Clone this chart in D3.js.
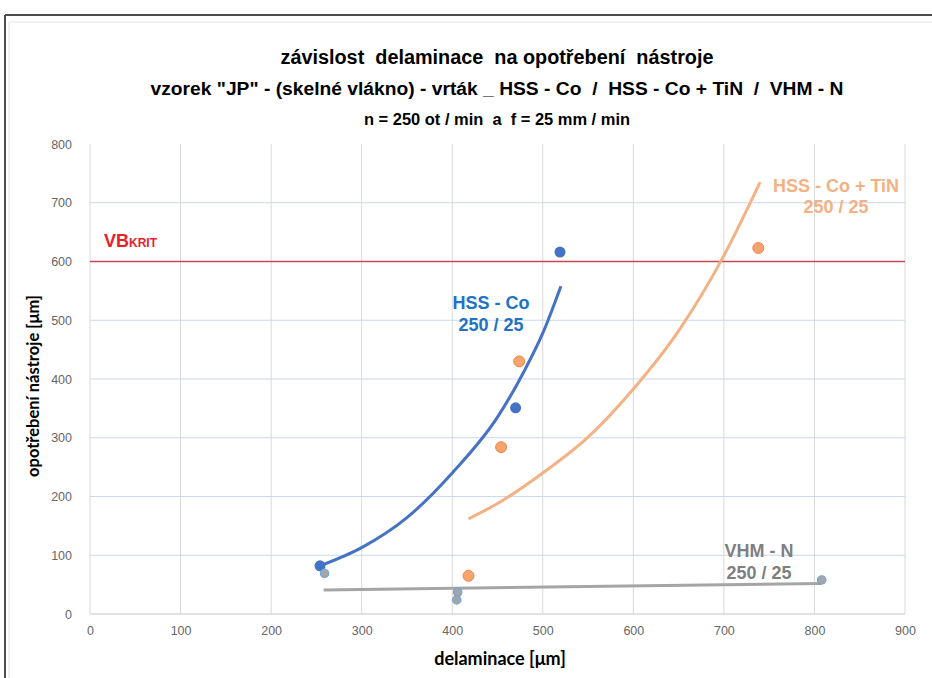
<!DOCTYPE html>
<html>
<head>
<meta charset="utf-8">
<script src="https://cdn.jsdelivr.net/npm/d3@7"></script>
<style>
  html, body { margin: 0; padding: 0; background: #fff; }
  svg { display: block; }
  text { white-space: pre; }
</style>
</head>
<body>
<svg id="chart" width="932" height="678"></svg>
<script>
// ---------- data ----------
const titleLines = [
  "závislost  delaminace  na opotřebení  nástroje",
  "vzorek \"JP\" - (skelné vlákno) - vrták _ HSS - Co  /  HSS - Co + TiN  /  VHM - N",
  "n = 250 ot / min  a  f = 25 mm / min"
];
const xTicks = [0, 100, 200, 300, 400, 500, 600, 700, 800, 900];
const yTicks = [0, 100, 200, 300, 400, 500, 600, 700, 800];
const xTitle = "delaminace [μm]";
const yTitle = "opotřebení nástroje [μm]";
const vbKrit = 600;

// measured points [delaminace, opotřebení]
const hssCoPoints = [[254, 82], [470, 351], [519, 616]];
const hssTinPoints = [[418, 65], [454, 284], [474, 430], [738, 623]];
const vhmPoints = [[259, 69], [406, 37], [405, 24], [808, 58]];

// trend curves
const hssCoTrend = [[254, 82], [300, 113], [350, 164], [400, 240], [450, 335], [480, 415], [500, 478], [520, 558]];
const hssTinTrend = [[418, 162], [450, 188], [500, 240], [550, 301], [600, 383], [650, 482], [700, 610], [740, 735]];
const vhmTrend = [[258, 41], [808, 52]];

const seriesLabels = [
  { lines: ["HSS - Co", "250 / 25"], x: 491, y: 309, gap: 22, color: "#2272c3" },
  { lines: ["HSS - Co + TiN", "250 / 25"], x: 836, y: 192, gap: 21, color: "#f4b183" },
  { lines: ["VHM - N", "250 / 25"], x: 759, y: 557, gap: 22, color: "#7f7f7f" }
];

// ---------- drawing ----------
const svg = d3.select("#chart");
const x = d3.scaleLinear().domain([0, 900]).range([90, 905]);
const y = d3.scaleLinear().domain([0, 800]).range([614, 144]);

// frame
svg.append("rect").attr("x", 0).attr("y", 0).attr("width", 932).attr("height", 678).attr("fill", "#fff");
svg.append("line").attr("x1", 5).attr("x2", 932).attr("y1", 15).attr("y2", 15).attr("stroke", "#4d4d4d").attr("stroke-width", 2);
svg.append("line").attr("x1", 5).attr("x2", 5).attr("y1", 15).attr("y2", 678).attr("stroke", "#4d4d4d").attr("stroke-width", 2);
svg.append("line").attr("x1", 9).attr("x2", 932).attr("y1", 22).attr("y2", 22).attr("stroke", "#e3e3e3").attr("stroke-width", 1);
svg.append("line").attr("x1", 9).attr("x2", 9).attr("y1", 22).attr("y2", 678).attr("stroke", "#e3e3e3").attr("stroke-width", 1);

// titles (condensed look via textLength)
const titleY = [64, 95, 125];
const titleSize = [20, 18, 16];
const titleLen = [433, 693, 266];
titleLines.forEach((t, i) => {
  svg.append("text")
    .attr("x", 497).attr("y", titleY[i])
    .attr("text-anchor", "middle")
    .attr("font-family", "'Liberation Sans', Arial, sans-serif")
    .attr("font-weight", "bold")
    .attr("font-size", titleSize[i])
    .attr("textLength", titleLen[i])
    .attr("lengthAdjust", "spacingAndGlyphs")
    .attr("fill", "#000")
    .text(t);
});

// gridlines
const g = svg.append("g");
g.selectAll(".vg").data(xTicks.filter(d => d > 0)).join("line")
  .attr("x1", d => x(d)).attr("x2", d => x(d))
  .attr("y1", y(800)).attr("y2", y(0))
  .attr("stroke", "#d9d9d9").attr("stroke-width", 1);
g.selectAll(".hg").data(yTicks.filter(d => d > 0 && d < 800)).join("line")
  .attr("x1", x(0)).attr("x2", x(900))
  .attr("y1", d => y(d)).attr("y2", d => y(d))
  .attr("stroke", "#c9d8f0").attr("stroke-width", 1.2);
g.append("line").attr("x1", x(0)).attr("x2", x(0)).attr("y1", y(800)).attr("y2", y(0)).attr("stroke", "#d9d9d9");
g.append("line").attr("x1", x(0)).attr("x2", x(900)).attr("y1", y(0)).attr("y2", y(0)).attr("stroke", "#d9d9d9").attr("stroke-width", 1.5);

// axes tick labels via d3 axes
const xAxis = d3.axisBottom(x).tickValues(xTicks).tickSize(0).tickPadding(12);
const yAxis = d3.axisLeft(y).tickValues(yTicks).tickSize(0).tickPadding(18);
const gx = svg.append("g").attr("transform", `translate(0,${y(0)})`).call(xAxis);
const gy = svg.append("g").attr("transform", `translate(${x(0)},0)`).call(yAxis);
[gx, gy].forEach(a => {
  a.select(".domain").remove();
  a.selectAll("text")
    .attr("font-family", "'Liberation Sans', Arial, sans-serif")
    .attr("font-size", 12.5).attr("fill", "#666");
});

// axis titles
svg.append("text").attr("x", 500).attr("y", 665).attr("text-anchor", "middle")
  .attr("font-family", "Lato, 'Open Sans', sans-serif").attr("font-weight", "bold").attr("font-size", 18)
  .attr("fill", "#000").text(xTitle);
svg.append("text").attr("transform", "translate(39,386) rotate(-90)").attr("text-anchor", "middle")
  .attr("font-family", "Lato, 'Open Sans', sans-serif").attr("font-weight", "bold").attr("font-size", 16.5)
  .attr("fill", "#000").text(yTitle);

// VB krit line + label
svg.append("line").attr("x1", x(0)).attr("x2", x(900)).attr("y1", y(vbKrit)).attr("y2", y(vbKrit))
  .attr("stroke", "#c8485a").attr("stroke-width", 1.4);
const vb = svg.append("text").attr("x", 104).attr("y", 247)
  .attr("font-family", "'Liberation Sans', Arial, sans-serif").attr("font-weight", "bold").attr("fill", "#e8202a");
vb.append("tspan").attr("font-size", 18).text("VB");
vb.append("tspan").attr("font-size", 12).text("KRIT");

// trend lines
const line = d3.line().x(d => x(d[0])).y(d => y(d[1])).curve(d3.curveMonotoneX);
svg.append("path").datum(vhmTrend).attr("d", line).attr("fill", "none").attr("stroke", "#a5a5a5").attr("stroke-width", 3);
svg.append("path").datum(hssTinTrend).attr("d", line).attr("fill", "none").attr("stroke", "#f4b183").attr("stroke-width", 3);
svg.append("path").datum(hssCoTrend).attr("d", line).attr("fill", "none").attr("stroke", "#4472c4").attr("stroke-width", 3);

// points
svg.selectAll(".p1").data(hssCoPoints).join("circle")
  .attr("cx", d => x(d[0])).attr("cy", d => y(d[1])).attr("r", 5.5)
  .attr("fill", "#4472c4");
svg.selectAll(".p2").data(hssTinPoints).join("circle")
  .attr("cx", d => x(d[0])).attr("cy", d => y(d[1])).attr("r", 5.5)
  .attr("fill", "#f4a46c").attr("stroke", "#ee8a4a").attr("stroke-width", 1);
svg.selectAll(".p3").data(vhmPoints).join("circle")
  .attr("cx", d => x(d[0])).attr("cy", d => y(d[1])).attr("r", 4.2)
  .attr("fill", "#a5a5a5").attr("stroke", "#6ea6dc").attr("stroke-width", 1.2);

// series labels
seriesLabels.forEach(l => {
  l.lines.forEach((t, i) => {
    svg.append("text").attr("x", l.x).attr("y", l.y + i * l.gap)
      .attr("text-anchor", "middle")
      .attr("font-family", "'Liberation Sans', Arial, sans-serif").attr("font-weight", "bold").attr("font-size", 18)
      .attr("fill", l.color).text(t);
  });
});
</script>
</body>
</html>
